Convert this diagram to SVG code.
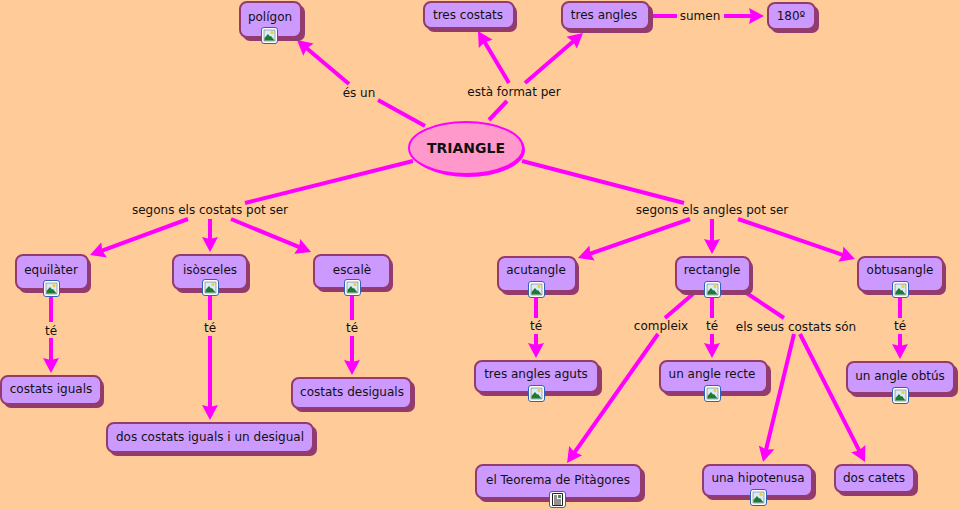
<svg xmlns="http://www.w3.org/2000/svg" width="960" height="510" viewBox="0 0 960 510">
<style>
text{font-family:"DejaVu Sans",Verdana,sans-serif;font-size:12px;fill:#111;text-anchor:middle}
.c line{stroke:#ff00ff;stroke-width:4;fill:none}
.s{fill:#933a6e}
.b{fill:#cc99ff;stroke:#933a6e;stroke-width:2}
</style>
<defs>
<marker id="a" markerUnits="userSpaceOnUse" markerWidth="18" markerHeight="18" refX="5" refY="9" orient="auto"><path d="M0 1L15 9L0 17L2 9Z" fill="#ff00ff"/></marker>
<g id="img"><rect x="0.5" y="0.5" width="16" height="16" rx="2.5" fill="#fff" stroke="#2d62b8"/><rect x="3" y="3" width="11" height="11" fill="#dcebf7" stroke="#555" stroke-width="0.5"/><circle cx="11" cy="5.5" r="1.7" fill="#f0d040"/><path d="M3.5 13.5L3.5 11L7 7L9 9.5L10 9L13.5 13.5Z" fill="#1d7a35"/></g>
<g id="doc"><rect x="0.5" y="0.5" width="16" height="16" rx="2.5" fill="#fff" stroke="#2d62b8"/><path d="M3.5 2.5H13.5V14.5H3.5Z" fill="#fff" stroke="#222"/><path d="M5 5H8M5 7H8M5 9H12M5 11H12M5 13H12" stroke="#222"/><rect x="9" y="4" width="3" height="3" fill="#4a8a5a"/></g>
</defs>
<rect width="960" height="510" fill="#ffcc99"/>
<g id="connectors" class="c">
<line x1="425" y1="126" x2="378" y2="100"/><line x1="349" y1="84" x2="304.6" y2="46.5" marker-end="url(#a)"/>
<line x1="489" y1="120" x2="507" y2="101"/><line x1="509" y1="83" x2="483.1" y2="39.6" marker-end="url(#a)"/>
<line x1="525" y1="83" x2="575.4" y2="39.5" marker-end="url(#a)"/>
<line x1="649" y1="16" x2="677" y2="16"/><line x1="724" y1="16" x2="754" y2="16" marker-end="url(#a)"/>
<line x1="413" y1="161" x2="245" y2="203"/><line x1="188" y1="219" x2="99.4" y2="251.6" marker-end="url(#a)"/>
<line x1="210" y1="219" x2="210" y2="242" marker-end="url(#a)"/><line x1="231" y1="219" x2="301.8" y2="248.2" marker-end="url(#a)"/>
<line x1="522" y1="161" x2="684" y2="203"/><line x1="690" y1="219" x2="587.4" y2="254.7" marker-end="url(#a)"/>
<line x1="712" y1="219" x2="712" y2="244" marker-end="url(#a)"/><line x1="738" y1="219" x2="845.5" y2="255.8" marker-end="url(#a)"/>
<line x1="51" y1="297" x2="51" y2="322"/><line x1="51" y1="338" x2="51" y2="363" marker-end="url(#a)"/>
<line x1="210" y1="296" x2="210" y2="320"/><line x1="210" y1="336" x2="210" y2="410" marker-end="url(#a)"/>
<line x1="352" y1="296" x2="352" y2="320"/><line x1="352" y1="336" x2="352" y2="365" marker-end="url(#a)"/>
<line x1="536" y1="298" x2="536" y2="318"/><line x1="536" y1="334" x2="536" y2="348" marker-end="url(#a)"/>
<line x1="693" y1="294" x2="665" y2="318"/><line x1="658" y1="334" x2="572.8" y2="454.8" marker-end="url(#a)"/>
<line x1="712" y1="298" x2="712" y2="318"/><line x1="712" y1="334" x2="712" y2="348" marker-end="url(#a)"/>
<line x1="745" y1="292" x2="784" y2="318"/><line x1="794" y1="334" x2="765.4" y2="452.3" marker-end="url(#a)"/><line x1="800" y1="334" x2="860.5" y2="453.1" marker-end="url(#a)"/>
<line x1="900" y1="298" x2="900" y2="318"/><line x1="900" y1="334" x2="900" y2="349" marker-end="url(#a)"/>
</g>
<g id="labels">
<text x="359" y="97">és un</text><text x="514" y="96">està format per</text><text x="700" y="20">sumen</text>
<text x="210" y="214">segons els costats pot ser</text><text x="712" y="214">segons els angles pot ser</text>
<text x="51" y="335">té</text><text x="210" y="332">té</text><text x="352" y="332">té</text><text x="536" y="330">té</text><text x="661" y="330">compleix</text><text x="712" y="330">té</text><text x="796" y="331">els seus costats són</text><text x="900" y="330">té</text>
</g>
<g id="triangle"><ellipse cx="468" cy="150" rx="57" ry="27" fill="#ff00ff"/><ellipse cx="466" cy="148" rx="57" ry="26" fill="#ff99cc" stroke="#ff00ff" stroke-width="2"/><text x="466" y="153" style="font-size:14px;font-weight:bold">TRIANGLE</text></g>
<g id="poligon"><rect class="s" x="243" y="5" width="62" height="36" rx="7"/><rect class="b" x="240" y="2" width="61" height="35" rx="7"/><text x="270" y="21">polígon</text><use href="#img" x="261" y="27"/></g>
<g id="trescostats"><rect class="s" x="427" y="5" width="90" height="27" rx="7"/><rect class="b" x="424" y="2" width="90" height="26" rx="7"/><text x="468" y="19">tres costats</text></g>
<g id="tresangles"><rect class="s" x="565" y="5" width="88" height="28" rx="7"/><rect class="b" x="562" y="2" width="87" height="27" rx="7"/><text x="604" y="19">tres angles</text></g>
<g id="n180"><rect class="s" x="771" y="6" width="48" height="27" rx="7"/><rect class="b" x="768" y="3" width="47" height="26" rx="7"/><text x="791" y="20">180º</text></g>
<g id="equilater"><rect class="s" x="19" y="258" width="72" height="35" rx="7"/><rect class="b" x="16" y="255" width="72" height="34" rx="7"/><text x="51" y="274">equilàter</text><use href="#img" x="43" y="280"/></g>
<g id="isosceles"><rect class="s" x="176" y="258" width="74" height="35" rx="7"/><rect class="b" x="173" y="255" width="74" height="34" rx="7"/><text x="210" y="274">isòsceles</text><use href="#img" x="202" y="279"/></g>
<g id="escale"><rect class="s" x="317" y="258" width="76" height="34" rx="7"/><rect class="b" x="314" y="255" width="76" height="33" rx="7"/><text x="352" y="274">escalè</text><use href="#img" x="344" y="279"/></g>
<g id="acutangle"><rect class="s" x="501" y="260" width="78" height="35" rx="7"/><rect class="b" x="498" y="257" width="78" height="34" rx="7"/><text x="536" y="274">acutangle</text><use href="#img" x="528" y="281"/></g>
<g id="rectangle"><rect class="s" x="679" y="260" width="74" height="35" rx="7"/><rect class="b" x="676" y="257" width="74" height="34" rx="7"/><text x="712" y="274">rectangle</text><use href="#img" x="704" y="281"/></g>
<g id="obtusangle"><rect class="s" x="861" y="260" width="85" height="35" rx="7"/><rect class="b" x="858" y="257" width="85" height="34" rx="7"/><text x="900" y="274">obtusangle</text><use href="#img" x="892" y="281"/></g>
<g id="costatsiguals"><rect class="s" x="4" y="379" width="100" height="29" rx="7"/><rect class="b" x="1" y="376" width="100" height="28" rx="7"/><text x="51" y="393">costats iguals</text></g>
<g id="doscostats"><rect class="s" x="110" y="426" width="207" height="30" rx="7"/><rect class="b" x="107" y="423" width="206" height="29" rx="7"/><text x="210" y="441">dos costats iguals i un desigual</text></g>
<g id="costatsdesiguals"><rect class="s" x="295" y="381" width="120" height="31" rx="7"/><rect class="b" x="292" y="378" width="119" height="30" rx="7"/><text x="352" y="396">costats desiguals</text></g>
<g id="tresaguts"><rect class="s" x="478" y="364" width="124" height="32" rx="7"/><rect class="b" x="475" y="361" width="123" height="31" rx="7"/><text x="536" y="378">tres angles aguts</text><use href="#img" x="528" y="385"/></g>
<g id="anglerecte"><rect class="s" x="663" y="364" width="108" height="32" rx="7"/><rect class="b" x="660" y="361" width="107" height="31" rx="7"/><text x="712" y="378">un angle recte</text><use href="#img" x="704" y="385"/></g>
<g id="angleobtus"><rect class="s" x="850" y="365" width="108" height="32" rx="7"/><rect class="b" x="847" y="362" width="107" height="31" rx="7"/><text x="900" y="380">un angle obtús</text><use href="#img" x="892" y="387"/></g>
<g id="teorema"><rect class="s" x="479" y="468" width="166" height="34" rx="7"/><rect class="b" x="476" y="465" width="165" height="33" rx="7"/><text x="558" y="484">el Teorema de Pitàgores</text><use href="#doc" x="549" y="491"/></g>
<g id="hipotenusa"><rect class="s" x="706" y="468" width="110" height="32" rx="7"/><rect class="b" x="703" y="465" width="109" height="31" rx="7"/><text x="758" y="482">una hipotenusa</text><use href="#img" x="750" y="489"/></g>
<g id="catets"><rect class="s" x="838" y="468" width="80" height="28" rx="7"/><rect class="b" x="835" y="465" width="79" height="27" rx="7"/><text x="874" y="482">dos catets</text></g>
</svg>
